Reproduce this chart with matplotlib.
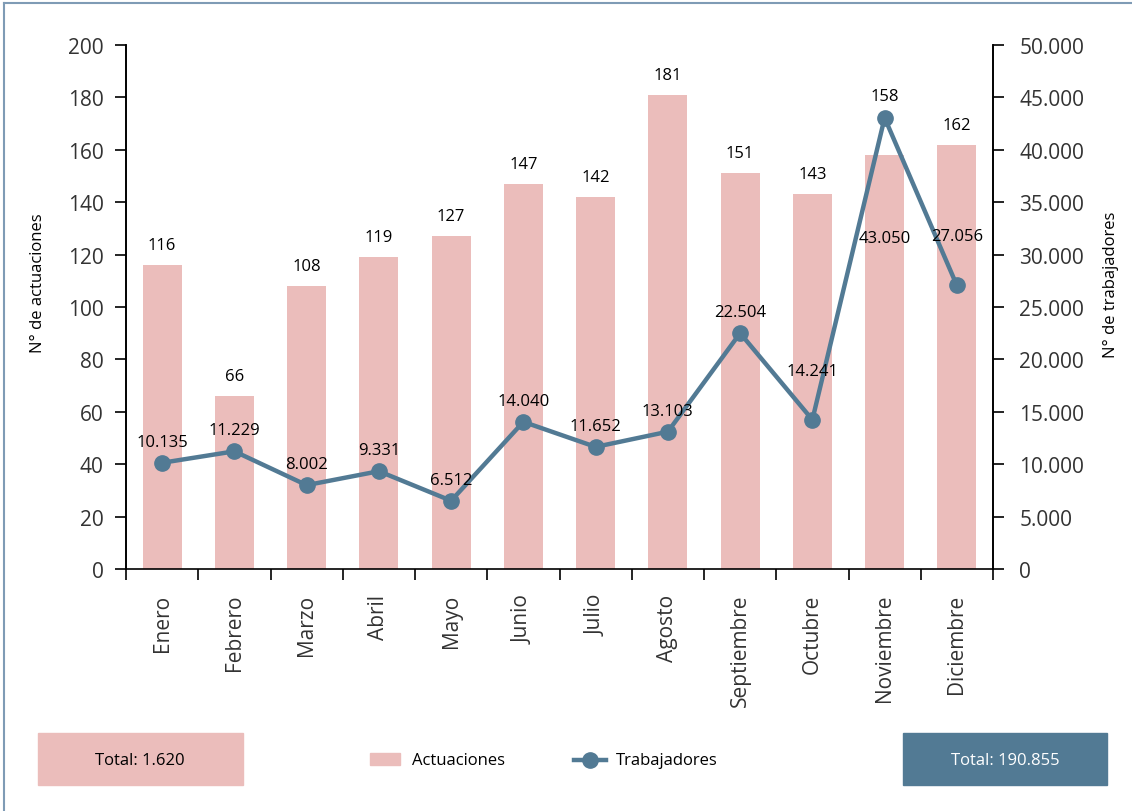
import matplotlib
matplotlib.use("Agg")
import matplotlib.pyplot as plt
from matplotlib.patches import Rectangle
from matplotlib.lines import Line2D

# Datos
meses = ["Enero", "Febrero", "Marzo", "Abril", "Mayo", "Junio", "Julio",
         "Agosto", "Septiembre", "Octubre", "Noviembre", "Diciembre"]
actuaciones = [116, 66, 108, 119, 127, 147, 142, 181, 151, 143, 158, 162]
trabajadores = [10135, 11229, 8002, 9331, 6512, 14040, 11652, 13103,
                22504, 14241, 43050, 27056]


def fmt_es(v):
    return f"{v:,.0f}".replace(",", ".")


plt.rcParams['font.family'] = ['Open Sans', 'DejaVu Sans']

c_bar = '#EBBDBB'
c_line = '#527A94'

fig = plt.figure(figsize=(11.32, 8.12), dpi=100)
ax = fig.add_axes([126 / 1132, 1 - 570 / 812, (993 - 126) / 1132, (570 - 46) / 812])
ax2 = ax.twinx()

x = list(range(len(meses)))
ax.bar(x, actuaciones, width=0.54, color=c_bar, zorder=1)
ax.set_xlim(-0.5, len(meses) - 0.5)
ax.set_ylim(0, 200)
ax.set_yticks(range(0, 201, 20))

ax2.plot(x, trabajadores, color=c_line, lw=3.2, marker='o', ms=11, zorder=3)
ax2.set_ylim(0, 50000)
ax2.set_yticks(range(0, 50001, 5000))
ax2.set_yticklabels([fmt_es(v) for v in range(0, 50001, 5000)])

# ticks del eje x en los límites de categoría, etiquetas en el centro
ax.set_xticks([i - 0.5 for i in range(len(meses) + 1)])
ax.set_xticklabels([])
ax.set_xticks(x, minor=True)
ax.set_xticklabels(meses, minor=True, rotation=90, fontsize=15, color='#333333')
ax.tick_params(axis='x', which='major', length=8, width=1.2, direction='out')
ax.tick_params(axis='x', which='minor', length=0, pad=18)
ax.tick_params(axis='y', length=8, width=1.2, labelsize=15, labelcolor='#333333', pad=8)
ax2.tick_params(axis='y', length=8, width=1.2, labelsize=15, labelcolor='#333333', pad=11)

for a in (ax, ax2):
    a.spines['top'].set_visible(False)
    for s in ('left', 'right', 'bottom'):
        a.spines[s].set_linewidth(1.2)
ax2.spines['bottom'].set_visible(False)

ax.set_ylabel("N° de actuaciones", fontsize=12)
ax2.set_ylabel("N° de trabajadores", fontsize=12)
ax.yaxis.set_label_coords(-80 / 867, 0.548)
ax2.yaxis.set_label_coords(1 + 110 / 867, 0.545)

# etiquetas de barras
bar_off = {10: 59}
for i, v in enumerate(actuaciones):
    ax.annotate(str(v), (i, v), xytext=(0, bar_off.get(i, 20) / 1.389),
                textcoords='offset points', ha='center', va='center', fontsize=12)

# etiquetas de la línea
line_off = {9: 49, 10: -120, 11: 49}
for i, v in enumerate(trabajadores):
    ax2.annotate(fmt_es(v), (i, v), xytext=(0, line_off.get(i, 21) / 1.389),
                 textcoords='offset points', ha='center', va='center', fontsize=12,
                 zorder=5)

# marco
fig.add_artist(Line2D([4 / 1132, 1], [1 - 4 / 812] * 2, transform=fig.transFigure,
                      color='#7F9BB5', lw=1.5))
fig.add_artist(Line2D([4 / 1132] * 2, [0, 1 - 4 / 812], transform=fig.transFigure,
                      color='#7F9BB5', lw=1.5))

# cajas de totales
fig.add_artist(Rectangle((38 / 1132, 1 - 786 / 812), 205 / 1132, 52 / 812,
                         transform=fig.transFigure, color=c_bar))
fig.text(140 / 1132, 1 - 761 / 812, "Total: " + fmt_es(sum(actuaciones)),
         ha='center', va='center', fontsize=12)
fig.add_artist(Rectangle((903 / 1132, 1 - 786 / 812), 204 / 1132, 52 / 812,
                         transform=fig.transFigure, color=c_line))
fig.text(1005 / 1132, 1 - 761 / 812, "Total: " + fmt_es(sum(trabajadores)),
         ha='center', va='center', fontsize=12, color='white')

# leyenda
fig.add_artist(Rectangle((370 / 1132, 1 - 766 / 812), 30 / 1132, 12 / 812,
                         transform=fig.transFigure, color=c_bar))
fig.text(412 / 1132, 1 - 761 / 812, "Actuaciones", ha='left', va='center', fontsize=12)
fig.add_artist(Line2D([574 / 1132, 590 / 1132, 606 / 1132], [1 - 761 / 812] * 3,
                      transform=fig.transFigure, color=c_line, lw=3.2,
                      marker='o', ms=11, markevery=[1]))
fig.text(616 / 1132, 1 - 761 / 812, "Trabajadores", ha='left', va='center', fontsize=12)

fig.savefig("out.png", dpi=100)
